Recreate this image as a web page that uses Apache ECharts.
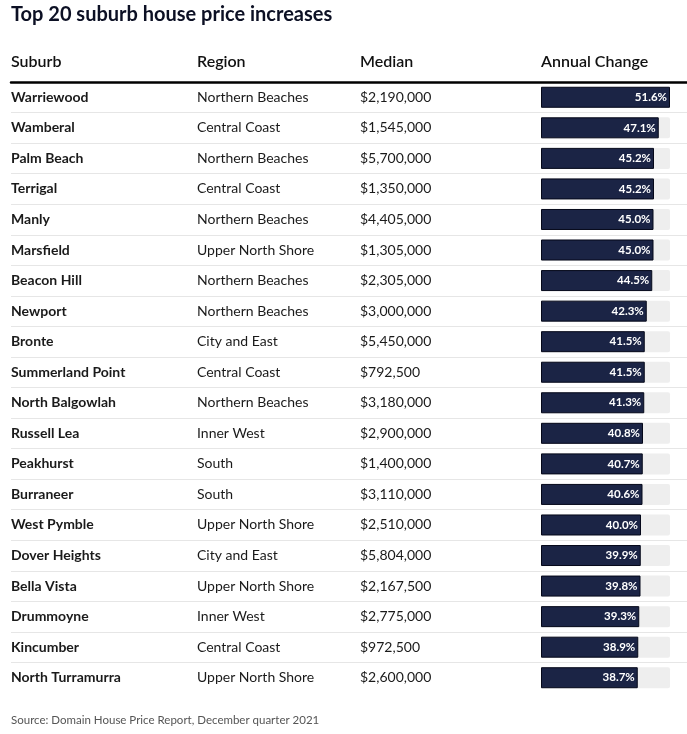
<!DOCTYPE html>
<html><head><meta charset="utf-8">
<script src="https://cdn.jsdelivr.net/npm/echarts@6/dist/echarts.min.js"></script>
<style>html,body{margin:0;padding:0;background:#fff}#c{width:687px;height:734px}</style>
</head><body><div id="c"></div>
<script>
const suburbs = ["Warriewood","Wamberal","Palm Beach","Terrigal","Manly","Marsfield","Beacon Hill","Newport","Bronte","Summerland Point","North Balgowlah","Russell Lea","Peakhurst","Burraneer","West Pymble","Dover Heights","Bella Vista","Drummoyne","Kincumber","North Turramurra"];
const regions = ["Northern Beaches","Central Coast","Northern Beaches","Central Coast","Northern Beaches","Upper North Shore","Northern Beaches","Northern Beaches","City and East","Central Coast","Northern Beaches","Inner West","South","South","Upper North Shore","City and East","Upper North Shore","Inner West","Central Coast","Upper North Shore"];
const medians = ["$2,190,000","$1,545,000","$5,700,000","$1,350,000","$4,405,000","$1,305,000","$2,305,000","$3,000,000","$5,450,000","$792,500","$3,180,000","$2,900,000","$1,400,000","$3,110,000","$2,510,000","$5,804,000","$2,167,500","$2,775,000","$972,500","$2,600,000"];
const changes = [51.6,47.1,45.2,45.2,45.0,45.0,44.5,42.3,41.5,41.5,41.3,40.8,40.7,40.6,40.0,39.9,39.8,39.3,38.9,38.7];
const headers = ["Suburb","Region","Median","Annual Change"];

const FONT = 'Lato';
const TOP = 82, H = 611;
const chart = echarts.init(document.getElementById('c'));
function textAxis(data, margin, weight, showSplit) {
  return {
    type: 'category', gridIndex: 0, inverse: true, data: data, position: 'left', offset: 0,
    axisLine: {show: false}, axisTick: {show: false},
    splitLine: {show: showSplit, showMinLine: false, showMaxLine: false, lineStyle: {color: '#e6e6e6', width: 1}},
    axisLabel: {show: true, align: 'left', margin: margin, color: '#1a1a1a', fontFamily: FONT, fontSize: 14, fontWeight: weight, padding: [2, 0, 0, 0]}
  };
}
chart.setOption({
  animation: false,
  textStyle: {fontFamily: FONT},
  title: [
    {text: 'Top 20 suburb house price increases', left: 11, top: 5, padding: 0, textStyle: {fontFamily: FONT, fontSize: 20, fontWeight: 'bold', color: '#0c1024'}},
    {text: 'Source: Domain House Price Report, December quarter 2021', left: 11, top: 714, padding: 0, textStyle: {fontFamily: FONT, fontSize: 11.5, fontWeight: 'normal', color: '#555'}}
  ],
  graphic: headers.map((h, i) => ({
    type: 'text', left: [11, 197, 360, 541][i], top: 54,
    style: {text: h, font: '600 16px ' + FONT, fill: '#111'}
  })),
  grid: [
    {left: 11, right: 0, top: TOP, height: H, containLabel: false},
    {left: 541, width: 129, top: TOP, height: H, containLabel: false}
  ],
  xAxis: [
    {type: 'value', gridIndex: 0, position: 'top', min: 0, max: 1, axisLine: {show: true, onZero: false, lineStyle: {color: '#000', width: 2.5}}, axisTick: {show: false}, axisLabel: {show: false}, splitLine: {show: false}},
    {type: 'value', gridIndex: 1, min: 0, max: 51.6, show: false}
  ],
  yAxis: [
    textAxis(suburbs, 0, 'bold', true),
    textAxis(regions, -186, 'normal', false),
    textAxis(medians, -349, 'normal', false),
    {type: 'category', gridIndex: 1, inverse: true, data: suburbs, show: false}
  ],
  series: [{
    type: 'bar', xAxisIndex: 1, yAxisIndex: 3, data: changes, barWidth: 21,
    showBackground: true,
    backgroundStyle: {color: '#eeeeee', borderRadius: [0, 2, 2, 0]},
    itemStyle: {color: '#1b2445', borderColor: '#05081a', borderWidth: 1},
    label: {show: true, position: 'insideRight', distance: 3, color: '#fff', fontFamily: FONT, fontSize: 11.5, fontWeight: 'bold',
      formatter: p => p.value.toFixed(1) + '%'}
  }]
});
</script></body></html>
